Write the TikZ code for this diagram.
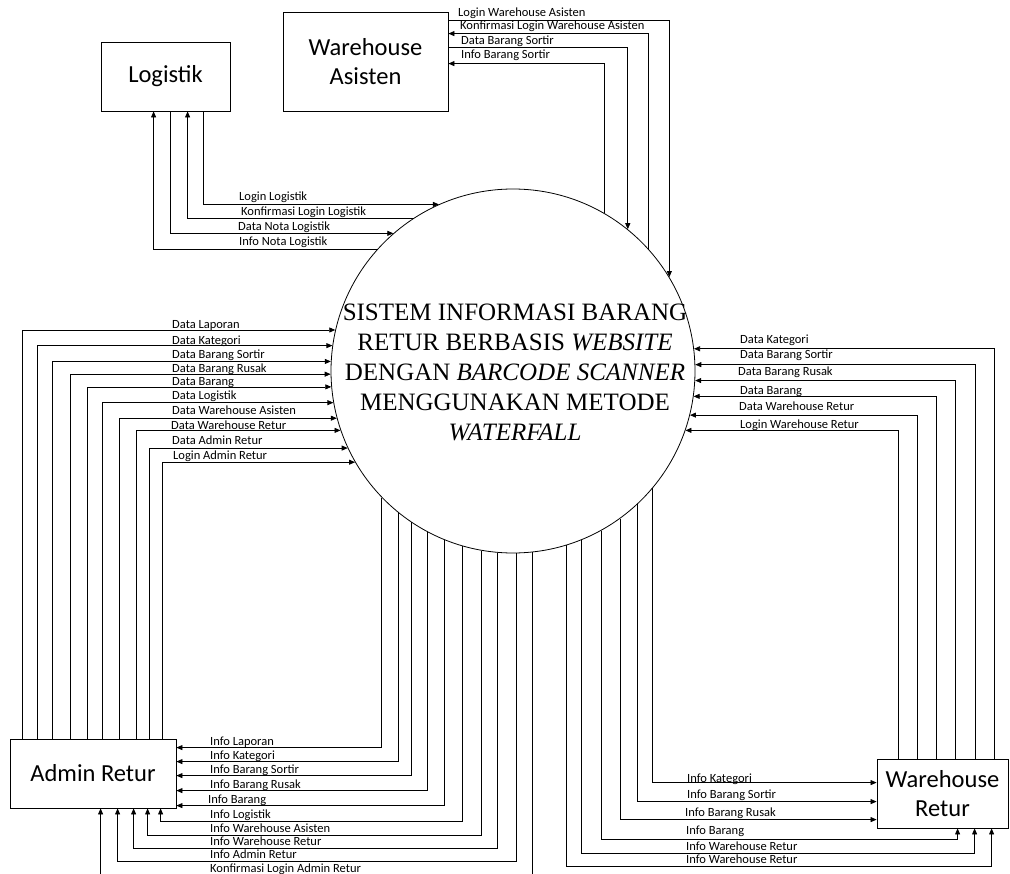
\documentclass[tikz,border=0pt]{standalone}
\usepackage{fontspec}
\setmainfont{Carlito}
\newfontfamily\tnr{Liberation Serif}
\usetikzlibrary{arrows.meta}
\begin{document}
\begin{tikzpicture}[x=1pt,y=-1pt,
  ent/.style={draw, line width=0.8pt, rectangle, inner sep=0pt, align=center, font=\fontsize{24.5}{29}\selectfont},
  flow/.style={line width=0.75pt, -{Triangle[length=6pt,width=5pt]}},
  lab/.style={anchor=base west, inner sep=0pt, font=\fontsize{12.5}{14}\selectfont}]
\useasboundingbox (0,0) rectangle (1010,874);
\clip (0,0) rectangle (1010,874);
% entities
\node[ent, minimum width=129pt, minimum height=69pt] (log) at (165.5,76.5) {Logistik};
\node[ent, minimum width=165pt, minimum height=99pt] (wa) at (365.5,61.5) {Warehouse\\Asisten};
\node[ent, minimum width=166pt, minimum height=69pt] (adm) at (93,773.5) {Admin Retur};
\node[ent, minimum width=131pt, minimum height=69pt] (wr) at (942.5,793.5) {Warehouse\\Retur};
\node[draw, circle, line width=0.8pt, minimum size=364pt, inner sep=0pt] (c) at (513,371) {};
\node[align=center, inner sep=0pt, font=\tnr\fontsize{25}{30}\selectfont] (ct) at (515,372)
  {SISTEM INFORMASI BARANG\\RETUR BERBASIS \textit{WEBSITE}\\DENGAN \textit{BARCODE SCANNER}\\MENGGUNAKAN METODE\\\textit{WATERFALL}};

% Logistik
\draw[flow] ([xshift=103pt]log.south west) |- (c.114.2);
\draw[flow] (c.123.9) -| ([xshift=87pt]log.south west);
\draw[flow] ([xshift=70pt]log.south west) |- (c.131.6);
\draw[flow] (c.138.3) -| ([xshift=53pt]log.south west);
\node[lab] (la1) at (239,201) {Login Logistik};
\node[lab] (la2) at (241,216) {Konfirmasi Login Logistik};
\node[lab] (la3) at (238,231) {Data Nota Logistik};
\node[lab] (la4) at (239,246) {Info Nota Logistik};

% Warehouse Asisten
\draw[flow] ([yshift=-9pt]wa.north east) -| (c.31.6);
\draw[flow] (c.42.6) |- ([yshift=-22pt]wa.north east);
\draw[flow] ([yshift=-36pt]wa.north east) -| (c.51.6);
\draw[flow] (c.60.4) |- ([yshift=-52pt]wa.north east);
\node[lab] (lb1) at (458,17) {Login Warehouse Asisten};
\node[lab] (lb2) at (460,30) {Konfirmasi Login Warehouse Asisten};
\node[lab] (lb3) at (461,45) {Data Barang Sortir};
\node[lab] (lb4) at (461,59) {Info Barang Sortir};

% Admin Retur data
\draw[flow] ([xshift=13pt]adm.north west) |- (c.167.6);
\draw[flow] ([xshift=28pt]adm.north west) |- (c.172.7);
\draw[flow] ([xshift=43pt]adm.north west) |- (c.177.2);
\draw[flow] ([xshift=61pt]adm.north west) |- (c.181.6);
\draw[flow] ([xshift=78pt]adm.north west) |- (c.185.7);
\draw[flow] ([xshift=93pt]adm.north west) |- (c.190.1);
\draw[flow] ([xshift=110pt]adm.north west) |- (c.195.0);
\draw[flow] ([xshift=127pt]adm.north west) |- (c.199.9);
\draw[flow] ([xshift=140pt]adm.north west) |- (c.205.0);
\draw[flow] ([xshift=153pt]adm.north west) |- (c.210.4);
\node[lab] (lc1) at (172,329) {Data Laporan};
\node[lab] (lc2) at (172,345) {Data Kategori};
\node[lab] (lc3) at (172,359) {Data Barang Sortir};
\node[lab] (lc4) at (172,373) {Data Barang Rusak};
\node[lab] (lc5) at (172,386) {Data Barang};
\node[lab] (lc6) at (172,400) {Data Logistik};
\node[lab] (lc7) at (172,415) {Data Warehouse Asisten};
\node[lab] (lc8) at (171,430) {Data Warehouse Retur};
\node[lab] (lc9) at (172,445) {Data Admin Retur};
\node[lab] (lc10) at (173,460) {Login Admin Retur};

% Admin Retur info
\draw[flow] (c.-136.5) |- ([yshift=-9pt]adm.north east);
\draw[flow] (c.-129.6) |- ([yshift=-23pt]adm.north east);
\draw[flow] (c.-124.1) |- ([yshift=-37pt]adm.north east);
\draw[flow] (c.-118.2) |- ([yshift=-52pt]adm.north east);
\draw[flow] (c.-112.3) |- ([yshift=-67pt]adm.north east);
\draw[flow] (c.-106.3) |- ([xshift=151pt,yshift=-13pt]adm.south west) -- ([xshift=151pt]adm.south west);
\draw[flow] (c.-100.4) |- ([xshift=138pt,yshift=-27pt]adm.south west) -- ([xshift=138pt]adm.south west);
\draw[flow] (c.-95.0) |- ([xshift=124pt,yshift=-40pt]adm.south west) -- ([xshift=124pt]adm.south west);
\draw[flow] (c.-89.7) |- ([xshift=108pt,yshift=-53pt]adm.south west) -- ([xshift=108pt]adm.south west);
\draw[flow] (c.-84.6) |- ([xshift=91pt,yshift=-70pt]adm.south west) -- ([xshift=91pt]adm.south west);
\node[lab] (ld1) at (210,745) {Info Laporan};
\node[lab] (ld2) at (210,759) {Info Kategori};
\node[lab] (ld3) at (210,773) {Info Barang Sortir};
\node[lab] (ld4) at (210,788) {Info Barang Rusak};
\node[lab] (ld5) at (208,803) {Info Barang};
\node[lab] (ld6) at (210,818) {Info Logistik};
\node[lab] (ld7) at (210,832) {Info Warehouse Asisten};
\node[lab] (ld8) at (210,845) {Info Warehouse Retur};
\node[lab] (ld9) at (210,858) {Info Admin Retur};
\node[lab] (ld10) at (210,872) {Konfirmasi Login Admin Retur};

% Warehouse Retur data
\draw[flow] ([xshift=118pt]wr.north west) |- (c.7.6);
\draw[flow] ([xshift=99pt]wr.north west) |- (c.2.8);
\draw[flow] ([xshift=79pt]wr.north west) |- (c.-3.2);
\draw[flow] ([xshift=60pt]wr.north west) |- (c.-8.5);
\draw[flow] ([xshift=41pt]wr.north west) |- (c.-14.6);
\draw[flow] ([xshift=22pt]wr.north west) |- (c.-19.9);
\node[lab] (le1) at (740,344) {Data Kategori};
\node[lab] (le2) at (740,359) {Data Barang Sortir};
\node[lab] (le3) at (738,376) {Data Barang Rusak};
\node[lab] (le4) at (740,395) {Data Barang};
\node[lab] (le5) at (739,411) {Data Warehouse Retur};
\node[lab] (le6) at (740,429) {Login Warehouse Retur};

% Warehouse Retur info
\draw[flow] (c.-40.2) |- ([yshift=-24pt]wr.north west);
\draw[flow] (c.-47.1) |- ([yshift=-43pt]wr.north west);
\draw[flow] (c.-54.4) |- ([yshift=-61pt]wr.north west);
\draw[flow] (c.-61.5) |- ([xshift=81pt,yshift=-11pt]wr.south west) -- ([xshift=81pt]wr.south west);
\draw[flow] (c.-68.1) |- ([xshift=98pt,yshift=-25pt]wr.south west) -- ([xshift=98pt]wr.south west);
\draw[flow] (c.-73.4) |- ([xshift=115pt,yshift=-38pt]wr.south west) -- ([xshift=115pt]wr.south west);
\node[lab] (lf1) at (687,782) {Info Kategori};
\node[lab] (lf2) at (687,798) {Info Barang Sortir};
\node[lab] (lf3) at (685,816) {Info Barang Rusak};
\node[lab] (lf4) at (686,834) {Info Barang};
\node[lab] (lf5) at (686,850) {Info Warehouse Retur};
\node[lab] (lf6) at (686,863) {Info Warehouse Retur};
\end{tikzpicture}
\end{document}
